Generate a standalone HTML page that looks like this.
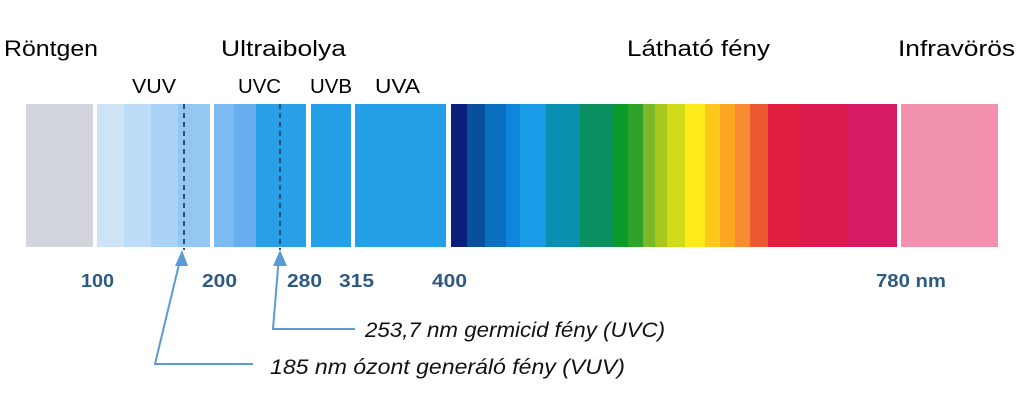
<!DOCTYPE html>
<html><head><meta charset="utf-8"><style>
html,body{margin:0;padding:0;background:#fff;width:1024px;height:401px;overflow:hidden}
</style></head><body>
<svg width="1024" height="401" xmlns="http://www.w3.org/2000/svg" font-family="Liberation Sans, DejaVu Sans, sans-serif">
<rect x="26" y="104" width="67" height="143" fill="#d2d4de"/>
<rect x="97" y="104" width="27" height="143" fill="#cfe3f7"/>
<rect x="124" y="104" width="27" height="143" fill="#bcdcf8"/>
<rect x="151" y="104" width="27" height="143" fill="#aad2f6"/>
<rect x="178" y="104" width="32" height="143" fill="#95c7f3"/>
<rect x="214" y="104" width="20" height="143" fill="#7cbaf1"/>
<rect x="234" y="104" width="22" height="143" fill="#66aeee"/>
<rect x="256" y="104" width="50" height="143" fill="#27a0e8"/>
<rect x="311" y="104" width="40" height="143" fill="#23a0e8"/>
<rect x="355" y="104" width="91" height="143" fill="#23a0e8"/>
<g>
<rect x="451" y="104" width="17" height="143" fill="#0a1f7a"/>
<rect x="467" y="104" width="18" height="143" fill="#0a4f9c"/>
<rect x="485" y="104" width="21" height="143" fill="#0a6fc0"/>
<rect x="506" y="104" width="14" height="143" fill="#0e86dc"/>
<rect x="520" y="104" width="26" height="143" fill="#1a9be8"/>
<rect x="546" y="104" width="34" height="143" fill="#0a8fb0"/>
<rect x="580" y="104" width="33" height="143" fill="#0a9060"/>
<rect x="613" y="104" width="15" height="143" fill="#0a9a28"/>
<rect x="628" y="104" width="15" height="143" fill="#2ea22a"/>
<rect x="643" y="104" width="12" height="143" fill="#7ab828"/>
<rect x="655" y="104" width="12" height="143" fill="#a8c820"/>
<rect x="667" y="104" width="18" height="143" fill="#d0dc18"/>
<rect x="685" y="104" width="20" height="143" fill="#fdeb1a"/>
<rect x="705" y="104" width="15" height="143" fill="#fdc81c"/>
<rect x="720" y="104" width="15" height="143" fill="#fba820"/>
<rect x="735" y="104" width="15" height="143" fill="#f98c30"/>
<rect x="750" y="104" width="18" height="143" fill="#eb5a30"/>
<rect x="768" y="104" width="32" height="143" fill="#e01e40"/>
<rect x="800" y="104" width="48" height="143" fill="#dc1a50"/>
<rect x="848" y="104" width="49" height="143" fill="#d61a64"/>
</g>
<rect x="901" y="104" width="97" height="143" fill="#f291ae"/>
<line x1="184" y1="104" x2="184" y2="250" stroke="#2a4f78" stroke-width="2" stroke-dasharray="5,4"/>
<line x1="280" y1="104" x2="280" y2="250" stroke="#2a4f78" stroke-width="2" stroke-dasharray="5,4"/>
<g fill="#000" font-size="22">
<text x="4" y="56" textLength="94" lengthAdjust="spacingAndGlyphs">Röntgen</text>
<text x="221" y="56" textLength="125" lengthAdjust="spacingAndGlyphs">Ultraibolya</text>
<text x="627" y="56" textLength="143" lengthAdjust="spacingAndGlyphs">Látható fény</text>
<text x="898" y="56" textLength="117" lengthAdjust="spacingAndGlyphs">Infravörös</text>
</g>
<g fill="#000" font-size="20">
<text x="132" y="93" textLength="44" lengthAdjust="spacingAndGlyphs">VUV</text>
<text x="238" y="93" textLength="43" lengthAdjust="spacingAndGlyphs">UVC</text>
<text x="310" y="93" textLength="42" lengthAdjust="spacingAndGlyphs">UVB</text>
<text x="375" y="93" textLength="45" lengthAdjust="spacingAndGlyphs">UVA</text>
</g>
<g fill="#2e5a82" font-size="18" font-weight="bold">
<text x="81" y="287" textLength="33" lengthAdjust="spacingAndGlyphs">100</text>
<text x="202" y="287" textLength="35" lengthAdjust="spacingAndGlyphs">200</text>
<text x="287" y="287" textLength="35" lengthAdjust="spacingAndGlyphs">280</text>
<text x="339" y="287" textLength="35" lengthAdjust="spacingAndGlyphs">315</text>
<text x="432" y="287" textLength="35" lengthAdjust="spacingAndGlyphs">400</text>
<text x="876" y="287" textLength="70" lengthAdjust="spacingAndGlyphs">780 nm</text>
</g>
<g stroke="#5b9bd5" stroke-width="2" fill="none">
<polyline points="181,256 155,364 253,364"/>
<polyline points="279,256 273,329 355,329"/>
</g>
<polygon points="182,250 175,266 188,266" fill="#5b9bd5"/>
<polygon points="280,250 273,266 287,266" fill="#5b9bd5"/>
<g fill="#111" font-size="21" font-style="italic">
<text x="365" y="337" textLength="300" lengthAdjust="spacingAndGlyphs">253,7 nm germicid fény (UVC)</text>
<text x="270" y="374" textLength="355" lengthAdjust="spacingAndGlyphs">185 nm ózont generáló fény (VUV)</text>
</g>
</svg>
</body></html>
